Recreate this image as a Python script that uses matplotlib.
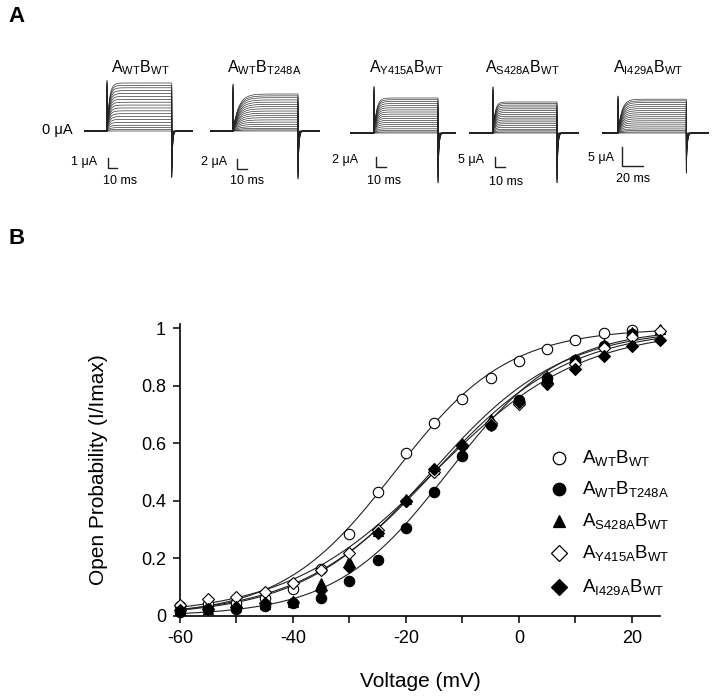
import numpy as np
import matplotlib
matplotlib.use('Agg')
import matplotlib.pyplot as plt

plt.rcParams['font.family'] = ['Liberation Sans', 'DejaVu Sans']
plt.rcParams['mathtext.default'] = 'regular'

W, H = 714, 697

# ---- panel A: current traces ----
trace_titles = [r'$A_{WT}B_{WT}$', r'$A_{WT}B_{T248A}$', r'$A_{Y415A}B_{WT}$',
                r'$A_{S428A}B_{WT}$', r'$A_{I429A}B_{WT}$']
imax_ua = [4.8, 7.4, 7.0, 15.5, 8.9]     # steady-state current of the largest trace
spike_ua = [5.1, 9.8, 9.4, 23.5, 10.0]   # onset transient
tail_ua = [4.7, 9.8, 10.2, 25.5, 10.8]   # tail current peak
tau_ms = [2.5, 5.5, 2.5, 2.0, 3.5]
pulse_ms = [72, 65, 64, 64, 65]
bar_ua = [1, 2, 2, 5, 5]
bar_ms = [10, 10, 10, 10, 20]
trace_levels = [0.0, 0.03, 0.07, 0.12, 0.18, 0.24, 0.30, 0.36, 0.42, 0.48,
                0.54, 0.60, 0.66, 0.72, 0.78, 0.84, 0.90, 0.95, 1.0]

# ---- panel B: activation curves ----
volts = [-60, -55, -50, -45, -40, -35, -30, -25, -20, -15, -10, -5, 0, 5, 10, 15, 20, 25]
po_wt = [0.035, 0.04, 0.045, 0.063, 0.094, 0.164, 0.285, 0.43, 0.565, 0.672,
         0.756, 0.826, 0.885, 0.927, 0.958, 0.982, 0.993, np.nan]
po_t248a = [0.015, 0.025, 0.025, 0.035, 0.045, 0.063, 0.12, 0.195, 0.307, 0.43,
            0.557, 0.665, 0.752, 0.828, 0.889, 0.94, 0.98, np.nan]
po_s428a = [0.02, 0.025, 0.035, 0.04, 0.05, 0.115, 0.19, 0.295, 0.407, 0.51,
            0.60, 0.685, 0.752, 0.834, 0.895, 0.944, 0.986, 0.997]
po_y415a = [0.038, 0.06, 0.067, 0.085, 0.114, 0.16, 0.22, 0.30, 0.40, 0.50,
            0.59, 0.67, 0.738, 0.81, 0.875, 0.93, 0.97, 0.99]
po_i429a = [0.02, 0.025, 0.03, 0.045, 0.05, 0.09, 0.17, 0.29, 0.40, 0.51,
            0.595, 0.665, 0.745, 0.805, 0.86, 0.903, 0.94, 0.958]
# Boltzmann fit parameters (V1/2, slope)
v_half = [-22.0, -12.5, -15.5, -15.0, -15.0]
slope_k = [10.0, 10.0, 11.5, 12.0, 13.0]
series_labels = [r'$A_{WT}B_{WT}$', r'$A_{WT}B_{T248A}$', r'$A_{S428A}B_{WT}$',
                 r'$A_{Y415A}B_{WT}$', r'$A_{I429A}B_{WT}$']


def fx(px):
    return px / W


def fy(py):
    return 1 - py / H


fig = plt.figure(figsize=(W / 100, H / 100), dpi=100)

# layout of the trace panels, in pixels
x0_px = [84, 210, 350, 469, 602]
x1_px = [193, 320, 456, 579, 709]
on_px = [107, 233, 374, 493, 618]
base_px = [131, 131, 133, 133, 133]
bar_x_px = [108, 237, 376, 495, 622]
bar_y_px = [168, 169, 167, 167, 166]
bar_w_px = [9, 10, 10, 10, 21]
bar_h_px = [10, 10, 10, 10, 19]
title_x_px = [140, 264, 406, 522, 648]
ua_text_px = [(97, 162), (227, 162), (358, 160), (484, 160), (614, 158)]
ms_text_px = [(120, 181), (247, 181), (384, 181), (506, 182), (633, 179)]
top_px, bot_px = 40, 200

for p in range(5):
    ppm = bar_w_px[p] / bar_ms[p]
    ppu = bar_h_px[p] / bar_ua[p]
    ax = fig.add_axes([fx(x0_px[p]), fy(bot_px), fx(x1_px[p] - x0_px[p]),
                       (bot_px - top_px) / H])
    tmin = -(on_px[p] - x0_px[p]) / ppm
    tmax = (x1_px[p] - on_px[p]) / ppm
    ax.set_xlim(tmin, tmax)
    ax.set_ylim(-(bot_px - base_px[p]) / ppu, (base_px[p] - top_px) / ppu)
    ax.axis('off')
    t = np.linspace(tmin, tmax, 5000)
    dur = pulse_ms[p]
    on = (t >= 0) & (t < dur)
    off = t >= dur
    for lev in trace_levels:
        cur = np.zeros_like(t)
        cur[on] = (lev * imax_ua[p] * (1 - np.exp(-t[on] / tau_ms[p]))
                   + lev * spike_ua[p] * np.exp(-t[on] / 0.35))
        cur[off] = -lev * tail_ua[p] * np.exp(-(t[off] - dur) / 0.9)
        ax.plot(t, cur, color='#222222', lw=0.45)
    # scale bar
    bt = (bar_x_px[p] - on_px[p]) / ppm
    by = (base_px[p] - bar_y_px[p]) / ppu
    ax.plot([bt, bt, bt + bar_ms[p]], [by + bar_ua[p], by, by], color='#222222',
            lw=1.0, clip_on=False, solid_joinstyle='miter')
    fig.text(fx(title_x_px[p]), fy(68), trace_titles[p], ha='center', va='center',
             fontsize=11.5)
    fig.text(fx(ua_text_px[p][0]), fy(ua_text_px[p][1]), '%d \u03bcA' % bar_ua[p],
             ha='right', va='center', fontsize=9)
    fig.text(fx(ms_text_px[p][0]), fy(ms_text_px[p][1]), '%d ms' % bar_ms[p],
             ha='center', va='center', fontsize=9)

fig.text(fx(73), fy(130), '0 \u03bcA', ha='right', va='center', fontsize=10.5)
fig.text(fx(8), fy(16), 'A', ha='left', va='center', fontsize=16, fontweight='bold')
fig.text(fx(8), fy(239), 'B', ha='left', va='center', fontsize=16, fontweight='bold')

# ---- panel B ----
ax_top, ax_bot, ax_l, ax_r = 324, 616, 180, 660
axb = fig.add_axes([fx(ax_l), fy(ax_bot), fx(ax_r - ax_l), (ax_bot - ax_top) / H])
vfit = np.linspace(-60, 25, 300)
markers = [('o', 'white'), ('o', 'black'), ('^', 'black'), ('D', 'white'), ('D', 'black')]
msizes = [7.5, 7.5, 7.5, 6.2, 6.2]
data = [po_wt, po_t248a, po_s428a, po_y415a, po_i429a]
for i in range(5):
    axb.plot(vfit, 1 / (1 + np.exp((v_half[i] - vfit) / slope_k[i])),
             color='#222222', lw=0.8, zorder=2)
for i in range(5):
    m, fc = markers[i]
    axb.plot(volts, data[i], linestyle='none', marker=m, ms=msizes[i],
             mfc=fc, mec='black', mew=0.8, zorder=3, clip_on=False)

axb.set_xlim(-60, 25)
axb.set_ylim(0, 1.015)
axb.set_xticks(np.arange(-60, 30, 10))
axb.set_xticklabels(['-60', '', '-40', '', '-20', '', '0', '', '20'])
axb.set_yticks([0, 0.2, 0.4, 0.6, 0.8, 1.0])
axb.set_yticklabels(['0', '0.2', '0.4', '0.6', '0.8', '1'])
for s in ['top', 'right']:
    axb.spines[s].set_visible(False)
for s in ['left', 'bottom']:
    axb.spines[s].set_linewidth(1.2)
axb.tick_params(direction='out', length=5, width=1.1, labelsize=13, pad=5)
axb.set_xlabel('Voltage (mV)', fontsize=15, labelpad=18)
axb.set_ylabel('Open Probability (I/Imax)', fontsize=15, labelpad=24)

# legend drawn by hand
leg_y_px = [458, 489, 521, 553, 587]
for i in range(5):
    m, fc = markers[i]
    fig.lines.append(plt.Line2D([fx(559)], [fy(leg_y_px[i])], marker=m,
                                ms=msizes[i] + 1.5, mfc=fc, mec='black', mew=0.9,
                                linestyle='none', transform=fig.transFigure))
    fig.text(fx(582), fy(leg_y_px[i]), series_labels[i], ha='left', va='center',
             fontsize=13.5)

plt.savefig('out.png', dpi=100)
